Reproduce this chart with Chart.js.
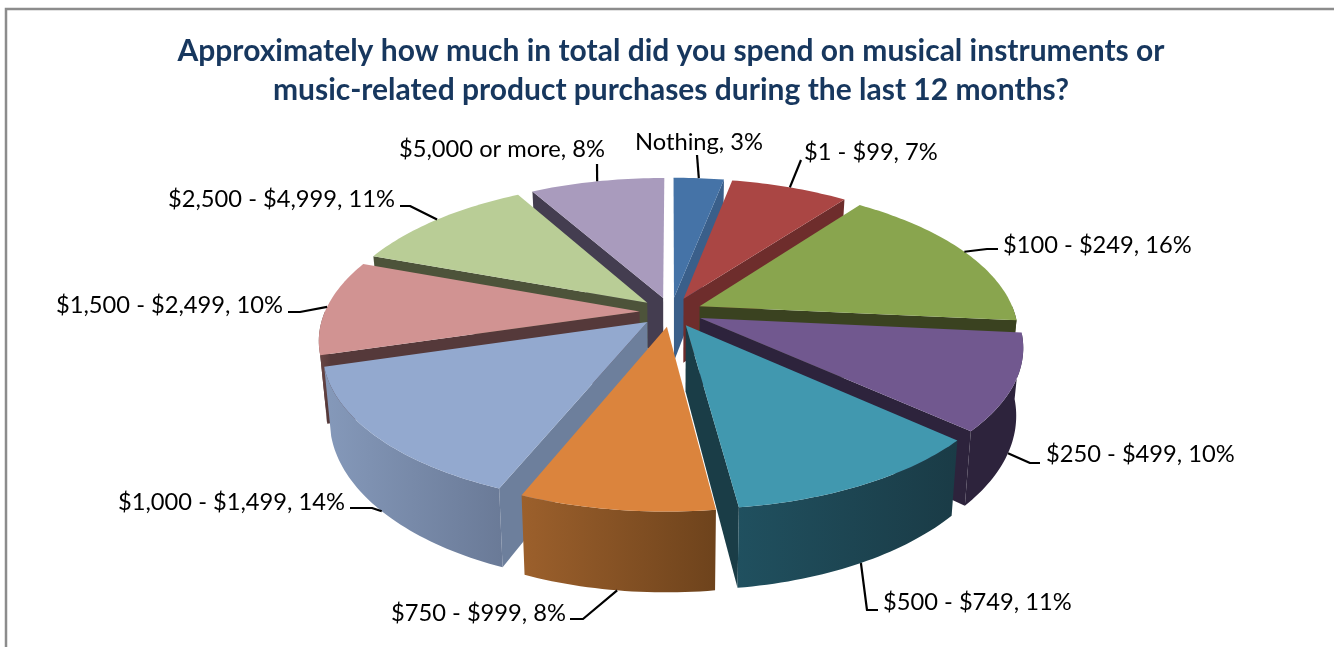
<!DOCTYPE html>
<html>
<head>
<meta charset="utf-8">
<title>Music spending</title>
<script src="https://cdn.jsdelivr.net/npm/chart.js@4"></script>
<style>
html,body{margin:0;padding:0;background:#fff;overflow:hidden}
canvas{display:block}
</style>
</head>
<body>
<canvas id="pie" width="1334" height="647"></canvas>
<script>
// Survey answers, in clockwise order from twelve o'clock
const categories = ['Nothing','$1 - $99','$100 - $249','$250 - $499','$500 - $749','$750 - $999','$1,000 - $1,499','$1,500 - $2,499','$2,500 - $4,999','$5,000 or more'];
const percents = [3,7,16,10,11,8,14,10,11,8];

// Face colours of each wedge
const topColors = ['#4573a7','#aa4644','#89a54e','#71588f','#4198af','#db843d','#93a9cf','#d19392','#b9cd96','#a99bbd'];
const edgeColors = ['#3a5f8a','#6e2d2c','#3a4220','#2d233c','#1a3d47','#6f441d','#6d7f9c','#55393a','#4d533a','#443d50'];
const rimFrom = ['#3a5f8a','#6e2d2c','#3a4220','#2d233c','#20505f','#9c602c','#8599ba','#6b4745','#4d533a','#443d50'];
const rimTo = ['#3a5f8a','#6e2d2c','#3a4220','#2d233c','#1a3b46','#6e431c','#6a7a97','#55393a','#4d533a','#443d50'];

// Label placement: left edge, middle line, and the elbow points of the leader (end at the text first)
const labelSpots = [[635,142],[804,152],[1003,245],[1046,454],[883,602],[391,613],[118,502],[56,305],[168,199],[399,149]];
const leaderElbows = [[[697,155]],[[801,160]],[[998,249],[987,249]],[[1040,463],[1030,463]],[[878,610],[867,610]],[[570,619],[583,619]],[[350,508],[372,508]],[[288,312],[300,312]],[[400,206],[410,206]],[[597,164]]];
// Which height of the wedge each leader lands on: 0 upper face, 1 lower rim
const leaderDepth = [0,0,0,1,1,1,1,0,0,0];

// Oblique view of the disc
const view = {stretchX:1.83, stretchY:0.849, perspective:0.178, explode:0.1, depth:65, narrow:0.02, nudgeX:0};

function projector(el){
  const mid = (el.startAngle + el.endAngle) / 2;
  const R = el.outerRadius;
  return (angle, r, z) => {
    const u = r * Math.cos(angle) + view.explode * Math.cos(mid);
    const v = r * Math.sin(angle) + view.explode * Math.sin(mid);
    const s = 1 / (1 - view.perspective * v);
    return [
      el.x + view.nudgeX + R * view.stretchX * u * s * (1 - view.narrow * z),
      el.y + R * view.stretchY * v * s + view.depth * z * s
    ];
  };
}

function fillPoly(ctx, pts, fill){
  ctx.beginPath();
  pts.forEach((p, i) => i ? ctx.lineTo(p[0], p[1]) : ctx.moveTo(p[0], p[1]));
  ctx.closePath();
  ctx.fillStyle = fill;
  ctx.fill();
}

function arcPoints(project, a0, a1, z){
  const pts = [];
  const n = Math.max(2, Math.ceil((a1 - a0) / 0.02));
  for (let i = 0; i <= n; i++) pts.push(project(a0 + (a1 - a0) * i / n, 1, z));
  return pts;
}

const tiltedPie = {
  id: 'tiltedPie',
  beforeDraw(chart){
    const ctx = chart.ctx;
    ctx.save();
    ctx.strokeStyle = '#8c8c8c';
    ctx.lineWidth = 2.5;
    ctx.beginPath();
    ctx.moveTo(6, 647);
    ctx.lineTo(6, 9);
    ctx.lineTo(1334, 9);
    ctx.stroke();
    ctx.restore();
  },
  beforeDatasetsDraw(chart){
    const ctx = chart.ctx;
    const arcs = chart.getDatasetMeta(0).data;
    const order = arcs.map((el, i) => i).sort((a, b) =>
      Math.sin((arcs[a].startAngle + arcs[a].endAngle) / 2) - Math.sin((arcs[b].startAngle + arcs[b].endAngle) / 2));

    ctx.save();
    order.forEach(i => {
      const el = arcs[i];
      const a0 = el.startAngle, a1 = el.endAngle;
      const project = projector(el);

      // Cut faces turned toward the viewer
      if (-Math.cos(a0) > 0) {
        fillPoly(ctx, [project(a0,0,0), project(a0,1,0), project(a0,1,1), project(a0,0,1)], edgeColors[i]);
      }
      if (Math.cos(a1) > 0) {
        fillPoly(ctx, [project(a1,0,0), project(a1,1,0), project(a1,1,1), project(a1,0,1)], edgeColors[i]);
      }

      // Rim: only the stretch on the near half of the circle can be seen
      const TAU = Math.PI * 2;
      const shift = Math.floor(a0 / TAU) * TAU;
      [[shift, shift + Math.PI], [shift + TAU, shift + TAU + Math.PI]].forEach(([lo, hi]) => {
        const from = Math.max(a0, lo), to = Math.min(a1, hi);
        if (to <= from) return;
        const upper = arcPoints(project, from, to, 0);
        const lower = arcPoints(project, from, to, 1).reverse();
        const xs = upper.concat(lower).map(p => p[0]);
        const g = ctx.createLinearGradient(Math.min(...xs), 0, Math.max(...xs), 0);
        g.addColorStop(0, rimFrom[i]);
        g.addColorStop(1, rimTo[i]);
        fillPoly(ctx, upper.concat(lower), g);
      });

      // Upper face
      fillPoly(ctx, [project(a0,0,0)].concat(arcPoints(project, a0, a1, 0)), topColors[i]);
    });

    // Leaders and value labels
    ctx.strokeStyle = '#000';
    ctx.lineWidth = 2.2;
    ctx.lineJoin = 'round';
    arcs.forEach((el, i) => {
      const mid = (el.startAngle + el.endAngle) / 2;
      const end = projector(el)(mid, 1, leaderDepth[i]);
      const path = leaderElbows[i].concat([end]);
      ctx.beginPath();
      path.forEach((p, k) => k ? ctx.lineTo(p[0], p[1]) : ctx.moveTo(p[0], p[1]));
      ctx.stroke();
    });
    ctx.fillStyle = '#000';
    ctx.font = '23.7px Lato';
    ctx.textAlign = 'left';
    ctx.textBaseline = 'middle';
    categories.forEach((c, i) => {
      ctx.fillText(c + ', ' + percents[i] + '%', labelSpots[i][0], labelSpots[i][1]);
    });
    ctx.restore();
    return false;
  }
};

new Chart(document.getElementById('pie'), {
  type: 'pie',
  data: {
    labels: categories,
    datasets: [{data: percents, backgroundColor: topColors, borderWidth: 0}]
  },
  options: {
    responsive: false,
    animation: false,
    layout: {padding: {left: 8, right: 0, top: 0, bottom: 163}},
    plugins: {
      legend: {display: false},
      tooltip: {enabled: false},
      title: {
        display: true,
        text: ['Approximately how much in total did you spend on musical instruments or','music-related product purchases during the last 12 months?'],
        color: '#17375e',
        font: {family: 'Lato', size: 30, weight: 'bold', lineHeight: 1.3},
        padding: {top: 32, bottom: 30}
      }
    }
  },
  plugins: [tiltedPie]
});
</script>
</body>
</html>
